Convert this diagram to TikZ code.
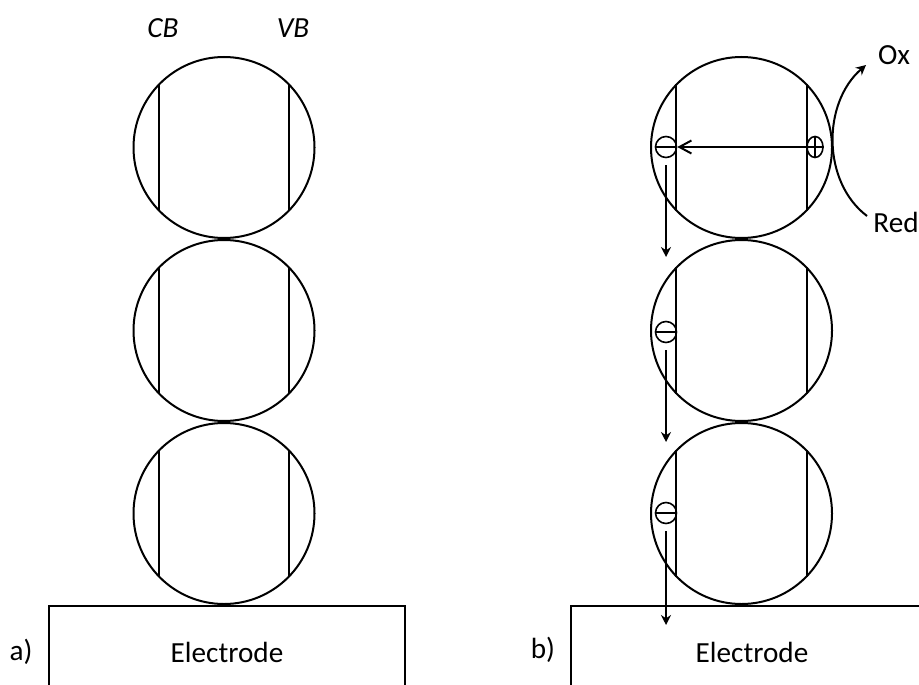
\documentclass[tikz,border=0pt]{standalone}
\usepackage{fontspec}
\setmainfont{Carlito}
\usetikzlibrary{positioning,shapes.geometric,arrows.meta}

\begin{document}
\begin{tikzpicture}[x=0.5pt, y=-0.5pt, line width=1pt,
    qdot/.style={circle, draw, minimum size=90.5pt, inner sep=0pt},
    elec/.style={ellipse, draw, line width=0.8pt, minimum width=10.5pt, minimum height=10.5pt, inner sep=0pt},
    hole/.style={ellipse, draw, line width=0.8pt, minimum width=8pt, minimum height=10.5pt, inner sep=0pt},
    electrode/.style={rectangle, draw, minimum height=46pt},
    lbl/.style={font=\fontsize{14.6}{17}\selectfont, inner sep=0pt},
    flow/.style={-{Stealth[length=5pt,width=5pt]}},
    hop/.style={-{Straight Barb[length=6pt,width=6.5pt]}}]
    \useasboundingbox (0,0) rectangle (919,684);
    \clip (0,0) rectangle (919,684);

    % Dots, panel a
    \node (a1) [qdot] at (224,147.5) {};
    \node (a2) [qdot, below=0pt of a1] {};
    \node (a3) [qdot, below=0pt of a2] {};
    % Dots, panel b
    \node (b1) [qdot] at (741.5,147.5) {};
    \node (b2) [qdot, below=0pt of b1] {};
    \node (b3) [qdot, below=0pt of b2] {};

    % Band edges (CB left, VB right)
    \draw ([shift={(-65.4,-63.5)}]a1.center) -- ([shift={(-65.4,63.5)}]a1.center);
    \draw ([shift={(65.4,-63.5)}]a1.center) -- ([shift={(65.4,63.5)}]a1.center);
    \draw ([shift={(-65.4,-63.5)}]a2.center) -- ([shift={(-65.4,63.5)}]a2.center);
    \draw ([shift={(65.4,-63.5)}]a2.center) -- ([shift={(65.4,63.5)}]a2.center);
    \draw ([shift={(-65.4,-63.5)}]a3.center) -- ([shift={(-65.4,63.5)}]a3.center);
    \draw ([shift={(65.4,-63.5)}]a3.center) -- ([shift={(65.4,63.5)}]a3.center);
    \draw ([shift={(-65.4,-63.5)}]b1.center) -- ([shift={(-65.4,63.5)}]b1.center);
    \draw ([shift={(65.4,-63.5)}]b1.center) -- ([shift={(65.4,63.5)}]b1.center);
    \draw ([shift={(-65.4,-63.5)}]b2.center) -- ([shift={(-65.4,63.5)}]b2.center);
    \draw ([shift={(65.4,-63.5)}]b2.center) -- ([shift={(65.4,63.5)}]b2.center);
    \draw ([shift={(-65.4,-63.5)}]b3.center) -- ([shift={(-65.4,63.5)}]b3.center);
    \draw ([shift={(65.4,-63.5)}]b3.center) -- ([shift={(65.4,63.5)}]b3.center);

    % Electrodes
    \node (elA) [electrode, lbl, minimum width=178pt] at (227,652) {Electrode};
    \node (elB) [electrode, lbl, minimum width=181pt] at (752,652) {Electrode};

    % Labels
    \node (pa) [lbl] at (21,652) {a)};
    \node (pb) [lbl] at (543,650) {b)};
    \node (cb) [lbl] at (163,28) {\itshape CB};
    \node (vb) [lbl] at (293,28) {\itshape VB};
    \node (oxl) [lbl] at (894,55) {Ox};
    \node (rdl) [lbl] at (896,222) {Red};

    % Charges
    \node (e1) [elec] at (666,147) {};
    \node (h1) [hole] at (815,147) {};
    \node (e2) [elec] at (666,332) {};
    \node (e3) [elec] at (666,513) {};
    \draw[line width=0.8pt] (e1.west) -- (e1.east);
    \draw[line width=0.8pt] (e2.west) -- (e2.east);
    \draw[line width=0.8pt] (e3.west) -- (e3.east);
    \draw[line width=0.8pt] (h1.west) -- (h1.east);
    \draw[line width=0.8pt] (h1.north) -- (h1.south);

    % Transfer
    \coordinate (d1) at (666,257);
    \coordinate (d2) at (666,442);
    \coordinate (d3) at (666,625);
    \coordinate (rd) at (867,216);
    \coordinate (ox) at (866,65);
    \draw[hop] (h1.west) -- (e1.east);
    \draw[flow] ([yshift=-3.5pt]e1.south) -- (d1);
    \draw[flow] ([yshift=-3.5pt]e2.south) -- (d2);
    \draw[flow] ([yshift=-3.5pt]e3.south) -- (d3);
    \draw[flow] (rd) .. controls (822,182) and (822,103) .. (ox);
\end{tikzpicture}
\end{document}
